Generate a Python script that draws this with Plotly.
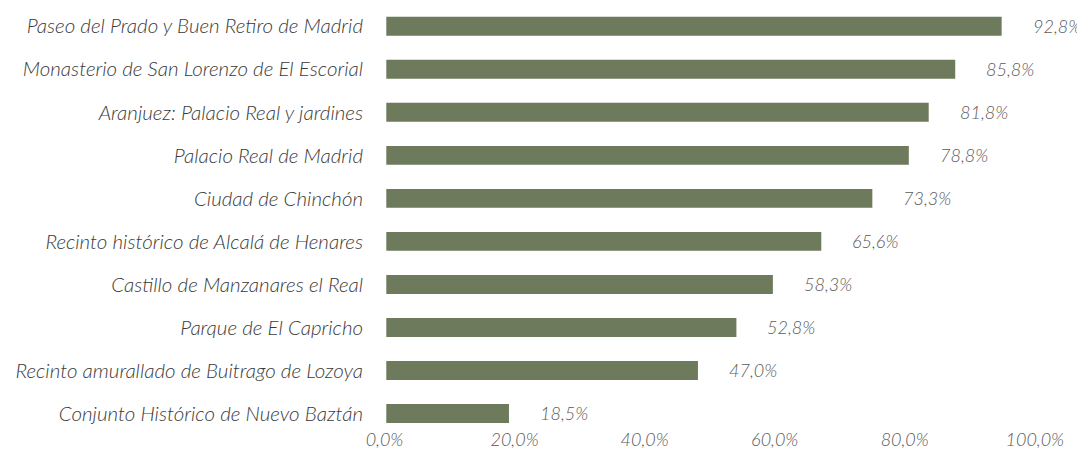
import plotly.graph_objects as go

# sitios (de abajo hacia arriba) y porcentajes
sitios = [
    "Conjunto Histórico de Nuevo Baztán",
    "Recinto amurallado de Buitrago de Lozoya",
    "Parque de El Capricho",
    "Castillo de Manzanares el Real",
    "Recinto histórico de Alcalá de Henares",
    "Ciudad de Chinchón",
    "Palacio Real de Madrid",
    "Aranjuez: Palacio Real y jardines",
    "Monasterio de San Lorenzo de El Escorial",
    "Paseo del Prado y Buen Retiro de Madrid",
]
valores = [18.5, 47.0, 52.8, 58.3, 65.6, 73.3, 78.8, 81.8, 85.8, 92.8]
ticks_x = [0, 20, 40, 60, 80, 100]

BAR_COLOR = "#6d7a5b"
FONT = "Lato Light, Lato"
LABEL_COLOR = "#3a3a3a"
VALUE_COLOR = "#595959"


def pct(v):
    return ("%.1f%%" % v).replace(".", ",")


fig = go.Figure()
fig.add_trace(go.Bar(
    y=sitios,
    x=valores,
    orientation="h",
    marker=dict(color=BAR_COLOR, line=dict(width=0)),
    hoverinfo="skip",
))
# invisible trace so the tick-label axis (x2) is drawn
fig.add_trace(go.Scatter(
    x=ticks_x, y=[sitios[0]] * len(ticks_x), xaxis="x2",
    mode="markers", marker=dict(opacity=0), hoverinfo="skip",
))

# etiquetas de valor a la derecha de cada barra
for s, v in zip(sitios, valores):
    fig.add_annotation(
        x=v, y=s, xref="x", yref="y",
        text=pct(v),
        showarrow=False, xanchor="left", xshift=29,
        font=dict(family=FONT, size=18, color=VALUE_COLOR, style="italic", weight=300),
    )

# page body has an 8px margin, so the figure is 8px smaller than the window
fig.update_layout(
    width=1077, height=446,
    margin=dict(l=360, r=37, t=0, b=20),
    paper_bgcolor="white",
    plot_bgcolor="white",
    bargap=0.56,
    showlegend=False,
    font=dict(family=FONT, size=20, color=LABEL_COLOR, style="italic", weight=300),
)
# bar scale
fig.update_xaxes(
    range=[-2.76, 99.79],
    showticklabels=False,
    showgrid=False, zeroline=False, showline=False,
    automargin=False,
)
# tick labels are spaced a little tighter than the bars in the original
fig.update_layout(xaxis2=dict(
    overlaying="x", side="bottom", anchor="y",
    range=[-2.54, 102.03],
    tickvals=ticks_x,
    ticktext=[pct(t) for t in ticks_x],
    showgrid=False, zeroline=False, showline=False,
    automargin=False,
    ticklabelstandoff=-7,
    tickfont=dict(family=FONT, size=18, color=VALUE_COLOR, style="italic", weight=300),
))
fig.update_yaxes(
    range=[-0.477, 9.425],
    showgrid=False, zeroline=False, showline=False,
    automargin=False,
    ticklabelstandoff=4,
    tickfont=dict(family=FONT, size=20.5, color=LABEL_COLOR, style="italic", weight=300),
)

fig.write_html("out.html")
